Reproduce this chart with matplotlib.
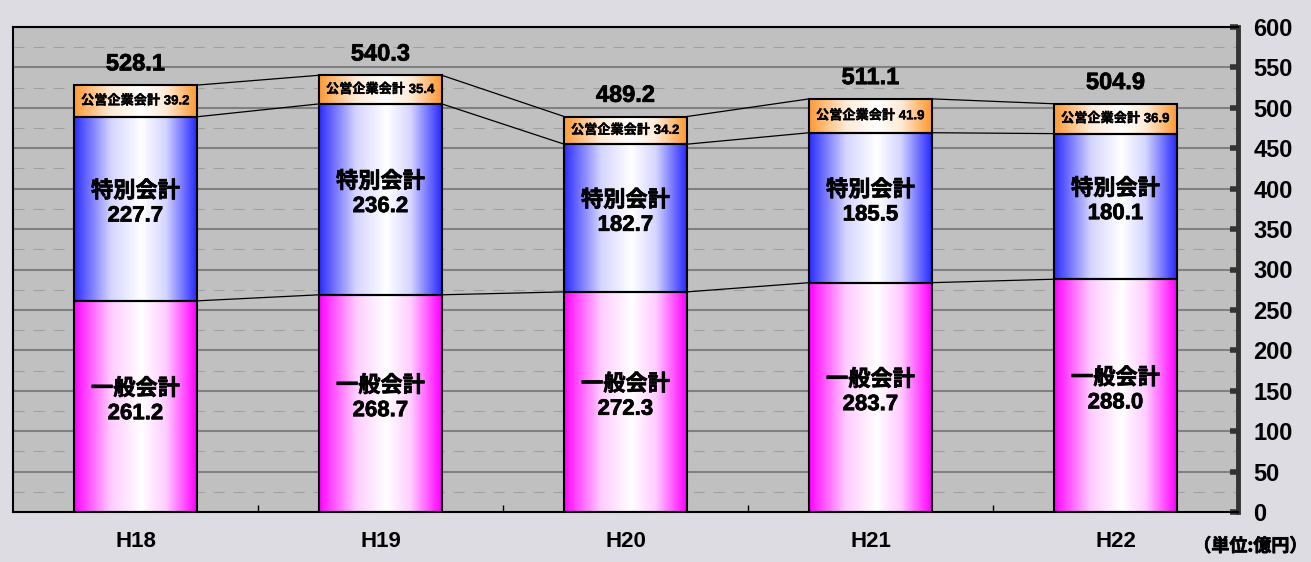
import matplotlib.pyplot as plt
import matplotlib.patheffects as pe
import numpy as np
from matplotlib.colors import to_rgb
from matplotlib.ticker import MultipleLocator

plt.rcParams['font.family'] = ['Liberation Sans', 'Noto Sans CJK JP']

# data (億円)
years = ['H18', 'H19', 'H20', 'H21', 'H22']
general = [261.2, 268.7, 272.3, 283.7, 288.0]
special = [227.7, 236.2, 182.7, 185.5, 180.1]
public = [39.2, 35.4, 34.2, 41.9, 36.9]
totals = [528.1, 540.3, 489.2, 511.1, 504.9]

bar_w = 0.5
# fake bold for the CJK font
bold = [pe.withStroke(linewidth=0.5, foreground='black')]


def gradient_bar(ax, x, bottom, height, color):
    # horizontal gradient: colour at the edges, white a bit right of centre
    t = np.linspace(0, 1, 200)
    w = np.interp(t, [0, 0.04, 0.3, 0.55, 0.75, 0.96, 1],
                  [0.0, 0.12, 0.8, 1.0, 0.8, 0.12, 0.0])
    c = np.array(to_rgb(color))
    img = c[None, :] * (1 - w[:, None]) + w[:, None]
    img = img[None, :, :]
    ax.imshow(img, extent=[x - bar_w / 2, x + bar_w / 2, bottom, bottom + height],
              aspect='auto', zorder=2, interpolation='bilinear')
    rect = plt.Rectangle((x - bar_w / 2, bottom), bar_w, height, fill=False,
                         edgecolor='black', linewidth=1.5, zorder=3)
    ax.add_patch(rect)


fig = plt.figure(figsize=(13.11, 5.62), dpi=100)
fig.patch.set_facecolor('#dcdce2')
ax = fig.add_axes([13 / 1311, 50 / 562, 1225 / 1311, 485 / 562])
ax.set_facecolor('#c0c0c0')

x = np.arange(len(years))
for i in range(len(years)):
    gradient_bar(ax, x[i], 0, general[i], '#ff00ff')
    gradient_bar(ax, x[i], general[i], special[i], '#2a2aff')
    gradient_bar(ax, x[i], general[i] + special[i], public[i], '#ff9933')

    ax.text(x[i], general[i] / 2 + 6, '一般会計\n%.1f' % general[i], ha='center', va='center',
            fontsize=16, fontweight='bold', linespacing=1.2, zorder=4, path_effects=bold)
    ax.text(x[i], general[i] + special[i] / 2 + 6, '特別会計\n%.1f' % special[i], ha='center',
            va='center', fontsize=16, fontweight='bold', linespacing=1.2, zorder=4,
            path_effects=bold)
    ax.text(x[i], general[i] + special[i] + public[i] / 2, '公営企業会計 %.1f' % public[i],
            ha='center', va='center', fontsize=9.5, fontweight='bold', zorder=4,
            path_effects=[pe.withStroke(linewidth=0.3, foreground='black')])
    ax.annotate('%.1f' % totals[i], (x[i], general[i] + special[i] + public[i]),
                xytext=(0, 7), textcoords='offset points', ha='center', va='bottom',
                fontsize=17, fontweight='bold', zorder=4, path_effects=bold)

# connector lines between the bars
levels = [np.array(general), np.array(general) + np.array(special),
          np.array(general) + np.array(special) + np.array(public)]
for lv in levels:
    for i in range(len(years) - 1):
        ax.plot([x[i] + bar_w / 2, x[i + 1] - bar_w / 2], [lv[i], lv[i + 1]],
                color='black', linewidth=0.9, zorder=1.5)

ax.set_xlim(-0.5, 4.5)
ax.set_ylim(0, 600)

# grid: solid every 50, dashed in between
ax.yaxis.set_major_locator(MultipleLocator(50))
ax.yaxis.set_minor_locator(MultipleLocator(25))
ax.grid(axis='y', which='major', color='#808080', linewidth=1.5, zorder=0)
ax.grid(axis='y', which='minor', color='#a0a0a0', linewidth=0.8, linestyle=(0, (10, 8)), zorder=0)
ax.set_axisbelow(True)

ax.yaxis.tick_right()
ax.tick_params(axis='y', which='major', direction='in', length=6, width=4, color='#333333',
               labelsize=17, pad=11)
ax.tick_params(axis='y', which='minor', length=0)
for lab in ax.get_yticklabels():
    lab.set_fontweight('bold')

ax.set_xticks(x)
ax.set_xticklabels(years, fontsize=16, fontweight='bold')
ax.set_xticks(x[:-1] + 0.5, minor=True)
ax.tick_params(axis='x', which='major', length=0, pad=14)
ax.tick_params(axis='x', which='minor', direction='in', length=5, width=1, color='black')

for side in ['left', 'top', 'bottom']:
    ax.spines[side].set_color('black')
    ax.spines[side].set_linewidth(1.5)
ax.spines['right'].set_color('#333333')
ax.spines['right'].set_linewidth(3.5)

fig.text(1307 / 1311, 16 / 562, '（単位:億円）', ha='right', va='center', fontsize=13,
         fontweight='bold', family=['Noto Sans CJK JP'], path_effects=bold)

fig.savefig('out.png', dpi=100, facecolor=fig.get_facecolor())
